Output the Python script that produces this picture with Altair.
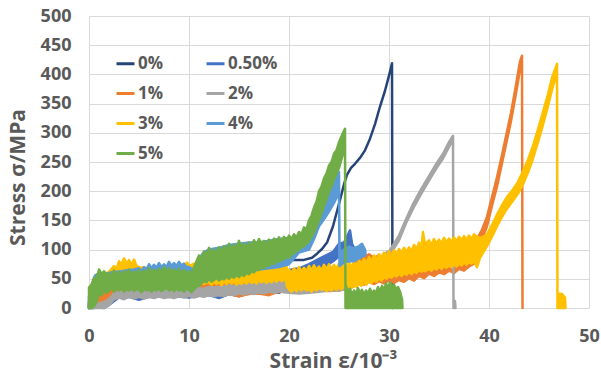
import altair as alt
import pandas as pd

series_names = ["0%", "0.50%", "1%", "2%", "3%", "4%", "5%"]
series_colors = ["#264478", "#4472C4", "#ED7D31", "#A5A5A5", "#FFC000", "#5B9BD5", "#70AD47"]

x_ticks = [0, 10, 20, 30, 40, 50]
y_ticks = [0, 50, 100, 150, 200, 250, 300, 350, 400, 450, 500]

# each point: (strain, lower edge of noisy band, upper edge of noisy band)
pct0 = [(0, 0, 10), (0.5, 5, 30), (1, 15, 45), (2, 20, 50), (5, 25, 55), (10, 30, 60),
        (15, 40, 75), (19, 60, 85), (19.8, 84, 84), (20.5, 82, 82), (21.4, 82, 82),
        (22.3, 86, 86), (22.8, 93, 93), (23.3, 101, 101), (23.8, 112, 112), (24.4, 140, 140),
        (25.1, 185, 185), (25.5, 212, 212), (25.8, 228, 228), (26.2, 240, 240), (26.6, 247, 247),
        (27.1, 257, 257), (27.6, 270, 270), (28.1, 290, 290), (28.6, 315, 315), (29.1, 345, 345),
        (29.6, 372, 372), (30.0, 398, 398), (30.3, 419, 419), (30.35, 0, 0)]

pct05 = [(0, 0, 5), (0.5, 0, 15), (1, 2, 20), (1.5, 0, 18), (2, 5, 25), (2.5, 12, 28), (3, 18, 30),
         (4, 19, 32), (5, 14, 35), (6, 19, 34), (7, 20, 36), (8, 19, 35), (9, 20, 38), (10, 18, 40),
         (11, 21, 42), (12, 22, 45), (13, 17, 44), (14, 24, 45), (15, 20, 45), (16, 26, 48),
         (17, 27, 47), (18, 28, 50), (19, 26, 52), (19.5, 30, 58), (20, 40, 65), (21, 50, 68),
         (22, 58, 75), (23, 65, 84), (23.7, 72, 90), (24.4, 80, 96), (25, 88, 110), (25.5, 90, 112),
         (25.8, 95, 122), (26.1, 100, 133), (26.3, 95, 110), (26.6, 90, 100)]

pct1 = [(0, 0, 10), (0.5, 5, 35), (1, 10, 40), (2, 15, 40), (3, 25, 40), (4, 28, 42), (5, 25, 40),
        (6, 26, 42), (7, 24, 40), (8, 27, 40), (9, 25, 42), (10, 25, 45), (11, 27, 46), (12, 28, 50),
        (13, 22, 52), (14, 24, 55), (15, 20, 52), (16, 24, 54), (17, 25, 55), (18, 22, 57),
        (19, 28, 60), (20, 30, 58), (21, 28, 55), (22, 28, 50), (23, 30, 52), (24, 29, 54),
        (25, 30, 55), (26, 34, 60), (26.5, 38, 72), (27, 42, 85), (27.5, 40, 88), (28, 45, 92),
        (28.5, 41, 86), (29, 46, 90), (29.5, 42, 85), (30, 47, 86), (30.5, 43, 84), (31, 48, 88),
        (31.5, 45, 84), (32, 51, 86), (32.5, 47, 88), (33, 55, 88), (33.5, 51, 90), (34, 59, 90),
        (34.5, 55, 92), (35, 61, 93), (35.5, 58, 94), (36, 64, 95), (36.5, 60, 96), (37, 67, 98),
        (37.5, 64, 100), (38, 71, 104), (38.5, 76, 108), (38.8, 100, 118), (39.3, 118, 134),
        (39.8, 140, 156), (40.3, 175, 190), (40.8, 208, 224), (41.3, 248, 262), (41.8, 288, 302),
        (42.2, 320, 334), (42.6, 358, 372), (43.1, 408, 422), (43.3, 424, 432), (43.35, 0, 0)]

pct2 = [(0.3, 0, 0), (1, 0, 8), (1.5, 0, 10), (2, 5, 15), (2.5, 15, 25), (3, 18, 28), (3.5, 15, 27),
        (4, 19, 29), (4.5, 16, 27), (5, 19, 30), (5.5, 16, 28), (6, 19, 30), (6.5, 17, 29), (7, 20, 31),
        (7.5, 17, 29), (8, 19, 31), (8.5, 17, 30), (9, 20, 32), (9.5, 18, 31), (10, 21, 33),
        (10.5, 18, 32), (11, 21, 34), (11.5, 19, 33), (12, 22, 36), (12.5, 20, 35), (13, 22, 36),
        (13.5, 21, 37), (14, 24, 39), (14.5, 22, 38), (15, 25, 40), (15.5, 23, 39), (16, 26, 42),
        (16.5, 24, 41), (17, 27, 44), (17.5, 25, 42), (18, 28, 46), (18.5, 26, 44), (19, 29, 47),
        (19.5, 27, 45), (20, 26, 45), (21, 25, 40), (22, 26, 42), (23, 28, 44),
        (24, 30, 46), (25, 30, 50), (26, 34, 55), (27, 40, 60), (28, 52, 70), (28.5, 60, 78),
        (29, 72, 85), (29.5, 82, 92), (30.1, 91, 99), (31, 116, 124), (31.7, 145, 152),
        (32.4, 170, 178), (33.2, 195, 203), (34.1, 221, 229), (34.8, 241, 249), (35.4, 256, 264),
        (36.0, 276, 284), (36.4, 288, 295), (36.45, 0, 0), (36.6, 0, 12), (36.65, 0, 0)]

pct3 = [(0.3, 0, 20), (0.6, 30, 55), (1, 40, 60), (1.5, 42, 58), (2, 42, 62), (2.5, 45, 72),
        (2.75, 48, 66), (3, 50, 80), (3.25, 52, 74), (3.5, 52, 85), (3.75, 54, 76), (4, 55, 82),
        (4.25, 52, 74), (4.5, 50, 83), (4.75, 52, 72), (5, 50, 70), (6, 50, 68), (7, 52, 70),
        (8, 50, 72), (9, 50, 72), (9.5, 52, 70), (9.8, 55, 78), (10.1, 52, 72), (10.5, 52, 76),
        (11, 40, 66), (11.5, 42, 64), (12, 44, 70), (12.25, 40, 64), (12.5, 45, 72), (12.75, 41, 66),
        (13, 44, 73), (13.25, 39, 67), (13.5, 45, 75), (13.75, 41, 70), (14, 46, 78), (14.25, 42, 70),
        (14.5, 45, 76), (14.75, 40, 71), (15, 44, 79), (15.25, 41, 72), (15.5, 46, 80), (15.75, 42, 74),
        (16, 47, 82), (16.25, 43, 75), (16.5, 46, 80), (16.75, 42, 74), (17, 48, 83), (17.25, 44, 76),
        (17.5, 47, 84), (17.75, 43, 77), (18, 48, 83), (18.25, 44, 78), (18.5, 49, 85), (18.75, 45, 79),
        (19, 50, 86), (19.25, 46, 80), (19.5, 49, 87), (19.7, 47, 82), (19.8, 36, 62), (20, 32, 66),
        (20.25, 28, 60), (20.5, 33, 68), (20.75, 29, 61), (21, 34, 70), (21.25, 30, 62), (21.5, 35, 69),
        (21.75, 30, 63), (22, 33, 72), (22.25, 28, 64), (22.5, 34, 73), (22.75, 30, 65), (23, 35, 71),
        (23.25, 31, 64), (23.5, 34, 74), (23.75, 29, 66), (24, 33, 75), (24.25, 30, 66), (24.5, 35, 74),
        (24.75, 31, 67), (25, 36, 76), (25.25, 32, 68), (25.5, 37, 75), (25.75, 33, 69), (26, 38, 78),
        (26.25, 34, 70), (26.5, 39, 79), (26.75, 36, 72), (27, 42, 82), (27.25, 38, 75), (27.5, 44, 84),
        (27.75, 40, 78), (28, 46, 87), (28.25, 43, 80), (28.5, 48, 90), (28.75, 45, 83), (29, 51, 92),
        (29.25, 47, 86), (29.5, 53, 95), (29.75, 50, 88), (30, 55, 97), (30.25, 52, 90), (30.5, 57, 99),
        (30.75, 54, 92), (31, 59, 101), (31.25, 55, 94), (31.5, 60, 103), (31.75, 57, 96), (32, 62, 104),
        (32.25, 58, 97), (32.5, 63, 108), (32.75, 60, 100), (33, 65, 112), (33.25, 62, 104),
        (33.4, 66, 130), (33.6, 63, 108), (34, 67, 116), (34.25, 64, 108), (34.5, 69, 118),
        (34.75, 66, 110), (35, 71, 117), (35.25, 67, 111), (35.5, 72, 120), (35.75, 69, 112),
        (36, 73, 119), (36.25, 70, 113), (36.5, 75, 121), (36.75, 71, 114), (37, 76, 122),
        (37.25, 73, 116), (37.5, 78, 123), (37.75, 74, 117), (38, 79, 124), (38.25, 76, 118),
        (38.5, 80, 126), (38.8, 70, 122), (39.1, 86, 120), (39.3, 92, 121), (39.8, 106, 126),
        (40.3, 122, 142), (40.8, 140, 160), (41.3, 156, 176), (41.8, 170, 190), (42.4, 184, 203),
        (42.9, 196, 216), (43.4, 212, 234), (43.9, 232, 254), (44.4, 256, 278), (44.9, 284, 306),
        (45.4, 314, 336), (45.9, 346, 366), (46.3, 374, 394), (46.8, 404, 418), (46.85, 0, 0),
        (46.9, 0, 25), (47.3, 0, 24), (47.6, 0, 18), (47.65, 0, 0)]

pct4 = [(0, 0, 20), (0.3, 0, 40), (0.6, 10, 55), (1, 30, 60), (1.5, 33, 58), (2, 35, 60), (2.5, 36, 62),
        (3, 40, 62), (3.5, 38, 64), (4, 38, 65), (4.5, 40, 66), (5, 40, 68), (5.25, 42, 63), (5.5, 42, 70),
        (5.75, 44, 66), (6, 42, 75), (6.25, 44, 68), (6.5, 44, 74), (6.75, 43, 69), (7, 42, 77),
        (7.25, 45, 70), (7.5, 45, 75), (7.75, 44, 70), (8, 45, 79), (8.25, 44, 72), (8.5, 44, 77),
        (8.75, 43, 72), (9, 43, 79), (9.25, 42, 73), (9.5, 42, 76), (9.75, 41, 70), (10, 40, 70),
        (10.5, 40, 65), (11, 45, 85), (11.5, 55, 96), (12, 60, 100), (13, 62, 103),
        (14, 62, 108), (15, 60, 110), (16, 62, 112), (17, 66, 112), (18, 68, 115), (19, 70, 118),
        (20, 75, 120), (21, 95, 118), (22, 100, 130), (22.5, 118, 150), (23, 140, 175), (23.5, 152, 190),
        (24, 165, 205), (24.5, 180, 220), (25.0, 198, 233), (25.05, 72, 95), (25.5, 78, 100),
        (26, 80, 105), (26.5, 80, 102), (27, 85, 106), (27.3, 88, 110), (27.6, 90, 100), (27.65, 95, 95)]

pct5 = [(0, 0, 35), (0.25, 0, 40), (0.5, 3, 52), (0.75, 10, 48), (1, 25, 66), (1.25, 22, 58),
        (1.5, 30, 63), (1.75, 26, 56), (2, 30, 60), (2.25, 34, 54), (2.5, 28, 64), (2.75, 33, 57),
        (3, 30, 62), (3.25, 35, 55), (3.5, 28, 63), (3.75, 32, 58), (4, 30, 66), (4.25, 34, 56),
        (4.5, 29, 62), (4.75, 33, 59), (5, 31, 65), (5.25, 27, 57), (5.5, 33, 64), (5.75, 30, 60),
        (6, 32, 68), (6.25, 28, 59), (6.5, 33, 66), (6.75, 30, 61), (7, 34, 67), (7.25, 29, 60),
        (7.5, 32, 70), (7.75, 35, 62), (8, 30, 68), (8.25, 33, 61), (8.5, 29, 66), (8.75, 34, 60),
        (9, 30, 67), (9.25, 32, 58), (9.5, 28, 65), (9.75, 33, 60), (10, 31, 63), (10.25, 27, 58),
        (10.5, 32, 70), (10.75, 36, 80), (11, 38, 90), (11.25, 42, 84), (11.5, 46, 97), (11.75, 44, 90),
        (12, 50, 103), (12.25, 45, 94), (12.5, 48, 100), (12.75, 52, 93), (13, 47, 104), (13.25, 51, 96),
        (13.5, 49, 106), (13.75, 54, 98), (14, 50, 110), (14.25, 55, 100), (14.5, 52, 108),
        (14.75, 57, 102), (15, 53, 115), (15.25, 58, 104), (15.5, 55, 110), (15.75, 60, 103),
        (16, 58, 112), (16.25, 63, 106), (16.5, 61, 116), (16.75, 67, 108), (17, 65, 118),
        (17.25, 70, 110), (17.5, 68, 115), (17.75, 74, 109), (18, 72, 117), (18.25, 77, 111),
        (18.5, 75, 119), (18.75, 81, 113), (19, 79, 121), (19.25, 84, 114), (19.5, 83, 122),
        (19.75, 88, 116), (20, 86, 124), (20.25, 92, 118), (20.5, 94, 126), (20.75, 98, 121),
        (21, 100, 130), (21.25, 104, 127), (21.5, 106, 138), (21.75, 110, 135), (22, 115, 150),
        (22.25, 122, 158), (22.5, 130, 172), (22.75, 140, 182), (23, 150, 200), (23.25, 162, 208),
        (23.5, 175, 222), (23.75, 186, 230), (24, 200, 244), (24.25, 208, 250), (24.5, 220, 264),
        (24.75, 230, 270), (25, 240, 284), (25.3, 258, 296), (25.6, 280, 307), (25.65, 0, 0),
        (25.7, 0, 38), (25.9, 0, 26), (26.1, 0, 33), (26.3, 0, 22), (26.5, 0, 30), (26.7, 0, 24),
        (26.9, 0, 34), (27.1, 0, 26), (27.3, 0, 31), (27.5, 0, 22), (27.7, 0, 30), (27.9, 0, 25),
        (28.1, 0, 33), (28.3, 0, 24), (28.5, 0, 30), (28.7, 0, 26), (28.9, 0, 36), (29.1, 0, 28),
        (29.3, 0, 38), (29.5, 0, 30), (29.7, 0, 42), (29.9, 0, 34), (30.1, 0, 44), (30.3, 0, 36),
        (30.5, 0, 40), (30.7, 0, 32), (30.9, 0, 36), (31.1, 0, 28), (31.3, 0, 15), (31.35, 0, 0)]

all_series = [pct0, pct05, pct1, pct2, pct3, pct4, pct5]

rows = []
for name, pts in zip(series_names, all_series):
    for s, lo, hi in pts:
        rows.append({"series": name, "strain": s, "lo": lo, "hi": hi})
df = pd.DataFrame(rows)

FONT = "Open Sans"
GREY = "#595959"

x_enc = alt.X("strain:Q",
              scale=alt.Scale(domain=[0, 50], nice=False, zero=False),
              axis=alt.Axis(values=x_ticks, title="Strain ε/10⁻³", labelFlush=False,
                            labelPadding=19, titlePadding=5, titleX=244))
y_enc = alt.Y("hi:Q",
              scale=alt.Scale(domain=[0, 500], nice=False, zero=False),
              axis=alt.Axis(values=y_ticks, title="Stress σ/MPa", labelFlush=False,
                            labelPadding=18, titlePadding=12, titleY=161))

legend_df = pd.DataFrame({"series": series_names,
                          "strain": [None] * 7, "hi": [None] * 7})

legend_layer = alt.Chart(legend_df).mark_line(strokeWidth=3).encode(
    x=x_enc, y=y_enc,
    color=alt.Color("series:N",
                    scale=alt.Scale(domain=series_names, range=series_colors),
                    legend=alt.Legend(title=None, orient="none", legendX=26, legendY=37,
                                      columns=2, symbolType="stroke", symbolSize=324,
                                      symbolStrokeWidth=3, labelFont=FONT, labelFontSize=17,
                                      labelFontWeight="bold", labelColor=GREY, labelOffset=2,
                                      rowPadding=11, columnPadding=36, padding=0,
                                      direction="horizontal")),
)

layers = [legend_layer]
for name, col in zip(series_names, series_colors):
    layers.append(
        alt.Chart(df).transform_filter(alt.datum.series == name)
        .mark_area(fill=col, stroke=col, strokeWidth=2.5, opacity=1, strokeJoin="round")
        .encode(x=x_enc, y=y_enc, y2="lo:Q")
    )

chart = alt.layer(*layers).properties(
    width=500, height=292,
    autosize=alt.AutoSizeParams(type="none"),
    padding={"left": 89, "top": 16, "right": 12, "bottom": 68},
    background="white",
).configure_view(stroke=None).configure_axis(
    labelFont=FONT, labelFontSize=18, labelFontWeight="bold", labelColor=GREY,
    titleFont=FONT, titleFontSize=21, titleFontWeight="bold", titleColor=GREY,
    gridColor="#D9D9D9", gridWidth=1, domain=False, ticks=False,
)

chart.save("out.html", embed_options={"renderer": "svg", "actions": False})
